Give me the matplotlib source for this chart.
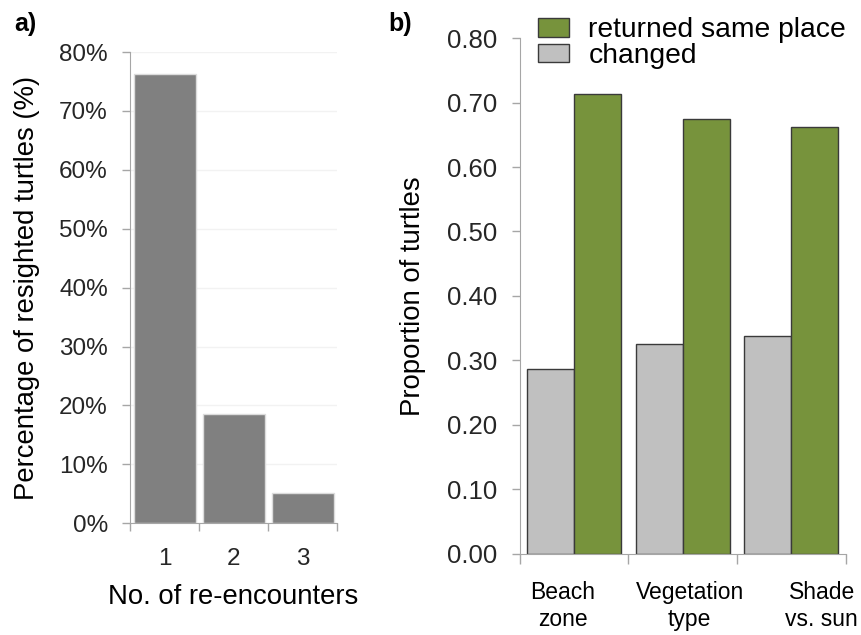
import matplotlib
matplotlib.use("Agg")
import matplotlib.pyplot as plt
import numpy as np
from matplotlib.patches import Patch

plt.rcParams["font.family"] = ["Liberation Sans", "DejaVu Sans"]

# panel a) data
encontros = ["1", "2", "3"]
pct_reavistados = [76.2, 18.6, 5.1]

# panel b) data
categorias = ["Beach\nzone", "Vegetation\ntype", "Shade\nvs. sun"]
prop_mudou = [0.286, 0.325, 0.338]
prop_mesmo = [0.714, 0.675, 0.662]

cor_texto = "#262626"
cor_eixo = "#a6a6a6"

fig = plt.figure(figsize=(8.62, 6.35), dpi=100)

# ---------- a) ----------
ax1 = fig.add_axes([0.151, 0.176, 0.240, 0.742])
x1 = np.arange(len(encontros))
ax1.bar(x1, pct_reavistados, width=0.9, color="#808080", edgecolor="#dcdcdc", linewidth=1, zorder=3)
ax1.set_xlim(-0.5, len(encontros) - 0.5)
ax1.set_ylim(0, 80)
ax1.set_yticks(np.arange(0, 81, 10))
ax1.set_yticklabels([f"{v}%" for v in range(0, 81, 10)])
ax1.yaxis.grid(True, color="#f2f2f2", linewidth=1, zorder=0)
ax1.set_xticks(x1)
ax1.set_xticklabels(encontros)
ax1.set_xticks(np.arange(-0.5, len(encontros)), minor=True)
ax1.tick_params(axis="x", which="major", length=0, pad=18, labelsize=17.5, labelcolor=cor_texto)
ax1.tick_params(axis="x", which="minor", length=6, color=cor_eixo, width=1)
ax1.tick_params(axis="y", length=6, color=cor_eixo, width=1, labelsize=17.5, labelcolor=cor_texto, pad=10)
for lado in ["top", "right"]:
    ax1.spines[lado].set_visible(False)
for lado in ["left", "bottom"]:
    ax1.spines[lado].set_color(cor_eixo)
ax1.set_xlabel("No. of re-encounters", fontsize=19.8, color="black", labelpad=10)
ax1.set_ylabel("Percentage of resighted turtles (%)", fontsize=19.8, color="black", labelpad=14)
fig.text(0.017, 0.962, "a)", fontsize=18, fontweight="bold", va="center")

# ---------- b) ----------
ax2 = fig.add_axes([0.603, 0.128, 0.378, 0.812])
x2 = np.arange(len(categorias))
w = 0.433
ax2.bar(x2 - w / 2, prop_mudou, width=w, color="#c0c0c0", edgecolor="#3a3a3a", linewidth=1, label="changed")
ax2.bar(x2 + w / 2, prop_mesmo, width=w, color="#77933c", edgecolor="#3a3a3a", linewidth=1,
        label="returned same place")
ax2.set_xlim(-0.5, len(categorias) - 0.5)
ax2.set_ylim(0, 0.8)
ax2.set_yticks(np.arange(0, 0.81, 0.1))
ax2.set_yticklabels([f"{v:.2f}" for v in np.arange(0, 0.81, 0.1)])
ax2.set_xticks(np.arange(-0.5, len(categorias)))
ax2.set_xticklabels([])
ax2.tick_params(axis="x", length=7, color=cor_eixo, width=1)
ax2.tick_params(axis="y", length=6, color=cor_eixo, width=1, labelsize=18.5, labelcolor=cor_texto, pad=10)
# category labels are slightly shifted in the original
desvios = [-0.104, 0.064, 0.279]
for i, (rot, d) in enumerate(zip(categorias, desvios)):
    ax2.text(i + d, -0.052, rot, transform=ax2.get_xaxis_transform(), ha="center", va="top",
             fontsize=16.5, color="black", linespacing=1.25, clip_on=False)
for lado in ["top", "right"]:
    ax2.spines[lado].set_visible(False)
for lado in ["left", "bottom"]:
    ax2.spines[lado].set_color(cor_eixo)
ax2.set_ylabel("Proportion of turtles", fontsize=19.8, color="black", labelpad=15)
fig.text(0.450, 0.962, "b)", fontsize=18, fontweight="bold", va="center")

legenda = [Patch(facecolor="#77933c", edgecolor="#3a3a3a", label="returned same place"),
           Patch(facecolor="#c0c0c0", edgecolor="#3a3a3a", label="changed")]
ax2.legend(handles=legenda, loc="upper left", bbox_to_anchor=(0.055, 1.04), frameon=False,
           fontsize=20.3, handlelength=1.1, handleheight=0.65, handletextpad=0.7,
           labelspacing=-0.02, borderpad=0, borderaxespad=0)

fig.savefig("out.png", dpi=100)
